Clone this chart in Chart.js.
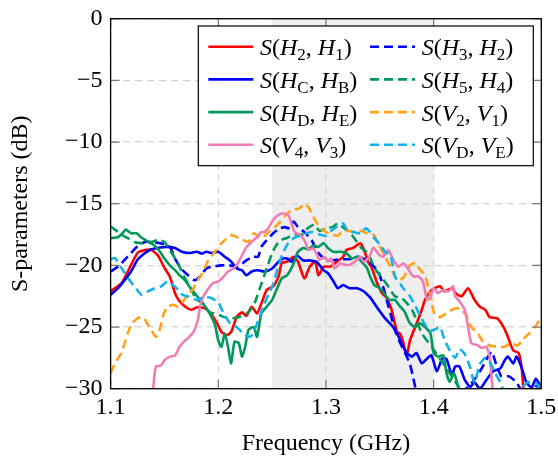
<!DOCTYPE html>
<html><head><meta charset="utf-8">
<script src="https://cdn.jsdelivr.net/npm/chart.js@4.4.0/dist/chart.umd.min.js"></script>
<style>html,body{margin:0;padding:0;background:#fff;}canvas{display:block;}</style>
</head><body>
<canvas id="c" width="558" height="458"></canvas>
<script>
// ---- axis / annotation data ----
const xTickVals = [1.1, 1.2, 1.3, 1.4, 1.5];
const yTickVals = [0, -5, -10, -15, -20, -25, -30];
const bandStart = 1.25, bandEnd = 1.40;
const seriesLabels = ['S(H_2, H_1)', 'S(H_3, H_2)', 'S(H_C, H_B)', 'S(H_5, H_4)',
                      'S(H_D, H_E)', 'S(V_2, V_1)', 'S(V_4, V_3)', 'S(V_D, V_E)'];

// ---- series: frequency (GHz) and S-parameter (dB) ----
const h2h1F = [1.100,1.110,1.116,1.125,1.132,1.138,1.144,1.150,1.155,1.160,1.164,1.170,1.175,1.180,1.188,1.197,1.203,1.208,1.212,1.217,1.222,1.226,1.231,1.236,1.240,1.245,1.251,1.256,1.259,1.264,1.270,1.274,1.280,1.285,1.290,1.293,1.298,1.304,1.310,1.316,1.319,1.325,1.332,1.336,1.339,1.342,1.347,1.352,1.356,1.361,1.366,1.369,1.372,1.375,1.378,1.381,1.386,1.389,1.392,1.397,1.401,1.406,1.410,1.417,1.421,1.426,1.432,1.438,1.443,1.448,1.452,1.459,1.465,1.469,1.474,1.479,1.482,1.484];
const h2h1DB = [-22.1,-21.45,-20.5,-19.0,-18.75,-18.75,-19.2,-20.2,-20.9,-22.3,-22.9,-23.4,-23.6,-23.4,-23.5,-24.4,-25.4,-25.65,-25.4,-24.2,-23.8,-24.1,-23.35,-23.9,-23.1,-22.0,-21.7,-20.9,-19.8,-19.7,-19.3,-19.7,-21.05,-20.1,-19.7,-20.8,-20.1,-20.1,-19.7,-19.3,-18.75,-18.6,-18.2,-18.9,-19.7,-20.1,-21.3,-22.25,-22.6,-23.6,-25.4,-25.55,-26.3,-27.3,-26.1,-25.4,-24.3,-23.6,-22.8,-22.1,-21.85,-21.7,-22.1,-21.85,-22.3,-22.5,-21.85,-22.8,-23.35,-23.6,-24.2,-24.3,-25.0,-25.8,-26.9,-27.1,-28.5,-31];

const h3h2F = [1.100,1.107,1.113,1.119,1.125,1.132,1.138,1.146,1.155,1.160,1.166,1.172,1.178,1.183,1.189,1.195,1.203,1.210,1.218,1.226,1.232,1.237,1.240,1.245,1.251,1.257,1.262,1.265,1.270,1.274,1.280,1.287,1.292,1.298,1.305,1.313,1.322,1.330,1.340,1.349,1.353,1.358,1.364,1.369,1.373,1.378,1.382,1.386,1.400,1.420,1.427,1.434,1.440,1.445,1.450,1.454,1.458,1.463,1.470,1.477,1.484,1.490,1.495,1.500];
const h3h2DB = [-20.5,-20.1,-19.55,-19.0,-18.45,-18.1,-18.1,-18.2,-18.5,-19.5,-20.3,-20.8,-21.2,-20.9,-20.25,-20.1,-20.0,-20.0,-20.1,-19.6,-19.3,-19.3,-18.5,-17.95,-17.4,-17.0,-16.9,-17.0,-16.45,-16.9,-17.3,-18.0,-18.9,-19.4,-19.6,-19.5,-19.5,-19.3,-19.7,-20.6,-21.7,-23.3,-25.2,-26.3,-27.0,-28.0,-29.5,-31,-33,-32,-30.3,-29.7,-29.0,-28.3,-27.5,-27.0,-28.0,-29.0,-29.0,-29.5,-30.5,-30.5,-29.8,-29.9];

const hchbF = [1.100,1.107,1.113,1.119,1.125,1.132,1.138,1.146,1.153,1.160,1.166,1.173,1.180,1.185,1.189,1.194,1.200,1.206,1.212,1.217,1.222,1.226,1.231,1.237,1.243,1.250,1.256,1.260,1.264,1.268,1.273,1.279,1.285,1.291,1.298,1.302,1.307,1.311,1.316,1.322,1.329,1.335,1.340,1.342,1.349,1.355,1.361,1.366,1.370,1.375,1.380,1.384,1.389,1.394,1.398,1.403,1.408,1.412,1.417,1.420,1.424,1.429,1.434,1.438,1.443,1.449,1.455,1.462,1.466,1.469,1.474,1.477,1.482,1.486,1.491,1.495,1.500];
const hchbDB = [-22.4,-21.85,-21.2,-20.5,-19.55,-19.0,-18.7,-18.55,-18.5,-18.6,-18.9,-19.0,-18.9,-19.05,-18.9,-19.0,-18.9,-19.3,-19.7,-20.25,-20.4,-20.8,-20.5,-20.4,-20.5,-20.25,-19.7,-19.45,-19.45,-19.7,-19.2,-19.6,-19.6,-19.7,-20.4,-20.65,-21.3,-21.85,-21.6,-21.85,-21.85,-22.1,-22.5,-22.7,-23.6,-24.3,-24.85,-25.5,-26.3,-27.1,-27.4,-27.1,-27.95,-27.55,-27.3,-28.6,-27.55,-27.6,-28.9,-28.2,-28.2,-29.3,-29.85,-29.5,-30.0,-29.3,-28.6,-28.35,-27.7,-27.4,-27.95,-27.4,-28.35,-29.45,-29.9,-29.2,-29.9];

const h5h4F = [1.100,1.104,1.110,1.116,1.122,1.129,1.138,1.144,1.150,1.155,1.160,1.164,1.170,1.175,1.180,1.185,1.191,1.196,1.200,1.209,1.219,1.228,1.234,1.240,1.246,1.251,1.257,1.263,1.271,1.278,1.283,1.289,1.294,1.300,1.306,1.311,1.317,1.322,1.328,1.333,1.339,1.345,1.352,1.357,1.364,1.371,1.380,1.389,1.399,1.406,1.413,1.420,1.426];
const h5h4DB = [-16.85,-17.1,-17.5,-17.8,-18.1,-18.2,-18.1,-17.95,-18.1,-18.75,-19.45,-20.1,-21.2,-22.0,-22.8,-23.0,-23.75,-23.9,-24.0,-24.3,-24.2,-23.8,-23.0,-21.5,-20.0,-18.8,-18.0,-17.8,-17.5,-17.5,-17.0,-16.7,-17.2,-17.0,-16.9,-16.6,-17.0,-17.3,-18.0,-18.6,-19.0,-20.2,-21.0,-21.6,-22.5,-22.7,-23.6,-25.5,-26.7,-27.6,-28.5,-29.4,-30.3];

const hdheF = [1.100,1.107,1.111,1.114,1.119,1.124,1.128,1.135,1.141,1.146,1.150,1.155,1.160,1.164,1.169,1.173,1.178,1.183,1.188,1.192,1.197,1.200,1.203,1.206,1.209,1.212,1.215,1.219,1.222,1.225,1.228,1.233,1.236,1.240,1.245,1.250,1.254,1.259,1.264,1.270,1.274,1.279,1.284,1.288,1.293,1.298,1.302,1.307,1.313,1.319,1.324,1.329,1.333,1.338,1.341,1.345,1.350,1.355,1.359,1.364,1.369,1.373,1.378,1.383,1.387,1.392,1.397,1.400,1.404,1.409,1.412,1.415,1.419,1.423,1.428];
const hdheDB = [-17.8,-17.7,-17.4,-17.1,-17.4,-17.4,-17.7,-18.1,-18.4,-18.9,-19.45,-20.0,-20.4,-20.8,-21.2,-21.7,-22.25,-22.8,-23.35,-23.9,-24.85,-26.1,-26.6,-25.5,-26.6,-27.95,-26.2,-26.3,-27.4,-26.6,-25.25,-25.0,-25.8,-23.9,-23.35,-22.8,-22.0,-21.05,-20.8,-19.85,-18.9,-18.6,-18.7,-18.4,-18.5,-18.2,-18.6,-18.9,-18.9,-19.0,-19.45,-19.3,-19.7,-20.2,-20.9,-21.6,-21.85,-22.4,-22.8,-22.8,-23.35,-23.75,-24.7,-25.0,-24.7,-25.0,-25.5,-27.1,-27.4,-27.3,-28.75,-29.45,-28.75,-29.9,-31];

const v2v1F = [1.100,1.104,1.110,1.116,1.120,1.125,1.130,1.135,1.138,1.142,1.146,1.149,1.153,1.158,1.163,1.167,1.172,1.177,1.181,1.185,1.191,1.197,1.203,1.208,1.212,1.217,1.222,1.228,1.233,1.240,1.247,1.254,1.262,1.268,1.275,1.280,1.284,1.288,1.294,1.300,1.305,1.311,1.316,1.322,1.327,1.333,1.338,1.344,1.349,1.355,1.361,1.366,1.372,1.378,1.383,1.387,1.392,1.397,1.401,1.406,1.410,1.415,1.420,1.424,1.430,1.435,1.441,1.446,1.452,1.459,1.466,1.472,1.478,1.483,1.489,1.494,1.500];
const v2v1DB = [-28.75,-27.95,-27.1,-25.5,-24.7,-24.3,-24.2,-24.85,-25.25,-25.8,-25.1,-24.0,-23.35,-23.2,-23.35,-22.95,-22.4,-21.85,-21.2,-20.65,-19.55,-18.9,-18.2,-17.8,-17.55,-17.7,-17.9,-18.1,-17.4,-17.8,-17.3,-16.8,-16.0,-15.5,-15.4,-15.0,-15.3,-16.0,-16.9,-17.3,-17.5,-17.6,-17.2,-17.2,-17.3,-17.2,-17.4,-17.5,-18.3,-19.3,-20.3,-21.2,-21.0,-20.0,-19.8,-20.3,-20.8,-22.5,-24.0,-24.2,-24.0,-23.7,-23.5,-23.5,-24.0,-25.0,-25.5,-26.2,-26.5,-26.6,-26.6,-26.3,-26.5,-26.0,-25.5,-25.0,-24.2];

const v4v3F = [1.139,1.142,1.147,1.150,1.155,1.160,1.164,1.169,1.172,1.177,1.181,1.183,1.186,1.191,1.195,1.200,1.205,1.209,1.214,1.217,1.222,1.226,1.231,1.236,1.240,1.243,1.247,1.251,1.256,1.260,1.265,1.268,1.271,1.276,1.280,1.284,1.288,1.291,1.294,1.299,1.302,1.305,1.308,1.313,1.318,1.322,1.327,1.332,1.335,1.339,1.341,1.344,1.349,1.353,1.358,1.362,1.367,1.372,1.376,1.381,1.386,1.390,1.394,1.397,1.400,1.404,1.409,1.414,1.418,1.420,1.424,1.429,1.432,1.435,1.440,1.445,1.449,1.452,1.454,1.456];
const v4v3DB = [-30.5,-28.2,-28.1,-27.7,-27.4,-27.3,-26.6,-26.1,-25.9,-25.4,-24.45,-23.35,-22.55,-21.85,-21.45,-21.3,-20.9,-20.5,-20.25,-20.0,-19.2,-18.55,-18.1,-17.7,-17.3,-17.3,-16.9,-16.3,-15.9,-15.8,-15.9,-16.6,-17.3,-17.55,-17.95,-18.75,-18.6,-19.0,-19.55,-19.3,-19.7,-19.45,-20.25,-19.85,-19.95,-19.95,-19.7,-19.3,-19.7,-19.45,-19.2,-18.55,-19.1,-19.3,-18.75,-19.45,-20.1,-19.85,-20.25,-20.9,-20.9,-21.3,-22.8,-22.55,-21.85,-22.25,-22.0,-22.1,-21.7,-22.5,-22.9,-23.6,-25.0,-26.3,-26.45,-26.7,-26.6,-27.4,-29.3,-31];

const vdveF = [1.100,1.104,1.110,1.116,1.122,1.129,1.135,1.141,1.147,1.153,1.158,1.163,1.167,1.173,1.180,1.186,1.192,1.200,1.205,1.211,1.217,1.223,1.228,1.231,1.237,1.242,1.247,1.251,1.256,1.260,1.265,1.270,1.276,1.282,1.288,1.294,1.300,1.305,1.311,1.316,1.320,1.326,1.332,1.337,1.341,1.345,1.350,1.355,1.360,1.364,1.369,1.373,1.378,1.383,1.387,1.392,1.397,1.401,1.406,1.410,1.415,1.420,1.424,1.429,1.434,1.438,1.443,1.448,1.452,1.457,1.462,1.466,1.472,1.479,1.487,1.494,1.500];
const vdveDB = [-19.5,-19.4,-20.2,-21.0,-21.7,-22.4,-22.1,-21.85,-21.7,-21.3,-21.6,-22.0,-22.4,-22.55,-22.8,-22.6,-22.6,-23.0,-23.9,-24.7,-25.0,-25.5,-25.8,-25.7,-24.5,-23.3,-22.3,-21.5,-20.0,-19.0,-18.2,-17.8,-17.6,-17.4,-17.3,-17.5,-17.6,-17.2,-16.8,-16.6,-17.2,-17.3,-17.4,-17.0,-17.3,-17.8,-18.3,-18.9,-19.2,-20.9,-21.5,-22.0,-22.5,-23.3,-24.0,-24.8,-25.3,-25.2,-25.0,-26.0,-26.9,-27.5,-26.8,-27.2,-28.3,-29.5,-28.0,-27.5,-27.8,-28.7,-29.5,-30.3,-30.5,-30.2,-29.5,-29.5,-30.0];

// ---- build datasets (plot order = legend row-major order) ----
const SERIF = '"Liberation Serif", "Times New Roman", serif';
const pts = (f, d) => f.map((v, i) => ({x: v, y: d[i]}));
const defs = [
  [h2h1F, h2h1DB, '#ff0000', false],
  [h3h2F, h3h2DB, '#0000ff', true],
  [hchbF, hchbDB, '#0000ff', false],
  [h5h4F, h5h4DB, '#00995a', true],
  [hdheF, hdheDB, '#00995a', false],
  [v2v1F, v2v1DB, '#ffa31a', true],
  [v4v3F, v4v3DB, '#f27db3', false],
  [vdveF, vdveDB, '#14b1ec', true]
];
const datasets = defs.map((d, i) => ({
  label: seriesLabels[i],
  data: pts(d[0], d[1]),
  borderColor: d[2],
  backgroundColor: d[2],
  borderWidth: 2.6,
  borderDash: d[3] ? [9, 5] : [],
  pointRadius: 0,
  tension: 0.2,
  fill: false,
  clip: 0,
  borderJoinStyle: 'round',
  order: defs.length - i
}));

// ---- helper: draw TeX-like label with italic letters and subscripts ----
function drawTex(c, s, x, y) {
  c.fillStyle = '#000'; c.textBaseline = 'alphabetic'; c.textAlign = 'left';
  for (let i = 0; i < s.length; i++) {
    let ch = s[i], dy = 0;
    if (ch === '_') { ch = s[++i]; c.font = '17px ' + SERIF; dy = 5; }
    else if (/[A-Za-z]/.test(ch)) c.font = 'italic 24px ' + SERIF;
    else c.font = '24px ' + SERIF;
    c.fillText(ch, x, y + dy);
    x += c.measureText(ch).width;
  }
}

const decor = {
  id: 'decor',
  beforeDraw(chart) {
    const {ctx: c, chartArea: ca, scales: {x}} = chart;
    c.save();
    c.fillStyle = '#fff'; c.fillRect(0, 0, chart.width, chart.height);
    const x0 = x.getPixelForValue(bandStart), x1 = x.getPixelForValue(bandEnd);
    c.fillStyle = '#eeeeee'; c.fillRect(x0, ca.top, x1 - x0, ca.bottom - ca.top);
    c.restore();
  },
  afterDatasetsDraw(chart) {
    const {ctx: c, chartArea: ca, scales: {x, y}} = chart;
    c.save();
    c.strokeStyle = '#7a7a7a'; c.lineWidth = 1.2; c.setLineDash([]);
    const tl = 9;
    c.beginPath();
    xTickVals.forEach(v => { const px = x.getPixelForValue(v);
      c.moveTo(px, ca.bottom); c.lineTo(px, ca.bottom - tl);
      c.moveTo(px, ca.top); c.lineTo(px, ca.top + tl); });
    yTickVals.forEach(v => { const py = y.getPixelForValue(v);
      c.moveTo(ca.left, py); c.lineTo(ca.left + tl, py);
      c.moveTo(ca.right, py); c.lineTo(ca.right - tl, py); });
    c.stroke();
    c.strokeStyle = '#000'; c.lineWidth = 1.3;
    c.strokeRect(ca.left, ca.top, ca.right - ca.left, ca.bottom - ca.top);
    c.restore();
  },
  afterDraw(chart) {
    const {ctx: c, chartArea: ca} = chart;
    const bw = 335, bh = 139.7;
    const bx = ca.right - 8 - bw, by = ca.top + 7.3;
    c.save();
    c.fillStyle = '#fff'; c.fillRect(bx, by, bw, bh);
    c.strokeStyle = '#000'; c.lineWidth = 1.2; c.setLineDash([]);
    c.strokeRect(bx, by, bw, bh);
    chart.data.datasets.forEach((ds, i) => {
      const row = Math.floor(i / 2), col = i % 2;
      const ly = by + 20.7 + row * 32.7;
      const lx = bx + (col ? 171.7 : 10);
      c.beginPath();
      c.setLineDash(ds.borderDash || []);
      c.strokeStyle = ds.borderColor; c.lineWidth = ds.borderWidth;
      c.moveTo(lx, ly); c.lineTo(lx + 45, ly); c.stroke();
      c.setLineDash([]);
      drawTex(c, ds.label, lx + 51.7, ly + 8.5);
    });
    c.restore();
  }
};

const zeroPad = s => { s.paddingLeft = 0; s.paddingRight = 0; s.paddingTop = 0; s.paddingBottom = 0; };

new Chart(document.getElementById('c'), {
  type: 'line',
  data: {datasets},
  plugins: [decor],
  options: {
    responsive: false,
    animation: false,
    devicePixelRatio: 1,
    layout: {padding: {left: 0, right: 16.7, top: 18.7, bottom: 0}},
    plugins: {legend: {display: false}, tooltip: {enabled: false}},
    scales: {
      x: {
        type: 'linear', min: 1.1, max: 1.5,
        afterBuildTicks: s => { s.ticks = xTickVals.map(v => ({value: v})); },
        afterFit: s => { s.height = 69.3; zeroPad(s); },
        ticks: {callback: v => Number(v).toFixed(1), font: {family: SERIF, size: 24}, color: '#000', padding: 5, maxRotation: 0, autoSkip: false},
        grid: {color: '#d4d4d4', lineWidth: 1.2, drawTicks: false},
        border: {display: false, dash: [7, 5]},
        title: {display: true, text: 'Frequency (GHz)', font: {family: SERIF, size: 24}, color: '#000', padding: {top: 0, bottom: 0}}
      },
      y: {
        type: 'linear', min: -30, max: 0,
        afterBuildTicks: s => { s.ticks = yTickVals.map(v => ({value: v})); },
        afterFit: s => { s.width = 110.6; zeroPad(s); },
        ticks: {callback: v => v < 0 ? '\u2212' + Math.abs(v) : String(v), font: {family: SERIF, size: 24}, color: '#000', padding: 8},
        grid: {color: '#d4d4d4', lineWidth: 1.2, drawTicks: false},
        border: {display: false, dash: [7, 5]},
        title: {display: true, text: 'S-parameters (dB)', font: {family: SERIF, size: 24}, color: '#000', padding: {top: 6.6, bottom: 0}}
      }
    }
  }
});
</script>
</body></html>
